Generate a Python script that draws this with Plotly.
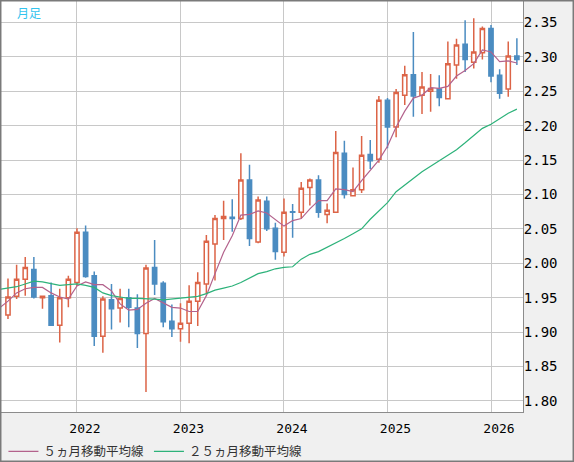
import plotly.graph_objects as go

# monthly candles, May 2021 .. Apr 2026
months = [
    "2021-05", "2021-06", "2021-07", "2021-08", "2021-09", "2021-10", "2021-11", "2021-12",
    "2022-01", "2022-02", "2022-03", "2022-04", "2022-05", "2022-06", "2022-07", "2022-08",
    "2022-09", "2022-10", "2022-11", "2022-12", "2023-01", "2023-02", "2023-03", "2023-04",
    "2023-05", "2023-06", "2023-07", "2023-08", "2023-09", "2023-10", "2023-11", "2023-12",
    "2024-01", "2024-02", "2024-03", "2024-04", "2024-05", "2024-06", "2024-07", "2024-08",
    "2024-09", "2024-10", "2024-11", "2024-12", "2025-01", "2025-02", "2025-03", "2025-04",
    "2025-05", "2025-06", "2025-07", "2025-08", "2025-09", "2025-10", "2025-11", "2025-12",
    "2026-01", "2026-02", "2026-03", "2026-04",
]
opens = [
    1.925, 1.952, 1.977, 1.991, 1.950, 1.953, 1.910, 1.950,
    1.972, 2.045, 1.982, 1.894, 1.947, 1.935, 1.950, 1.935,
    1.898, 1.994, 1.971, 1.916, 1.905, 1.913, 1.945, 1.970,
    2.028, 2.065, 2.067, 2.065, 2.121, 2.031, 2.090, 2.051,
    2.016, 2.075, 2.074, 2.110, 2.121, 2.071, 2.074, 2.160,
    2.098, 2.107, 2.158, 2.151, 2.237, 2.198, 2.244, 2.274,
    2.244, 2.250, 2.253, 2.239, 2.288, 2.318, 2.292, 2.306,
    2.341, 2.273, 2.253, 2.301,
]
highs = [
    1.978, 1.998, 2.009, 2.009, 1.953, 1.972, 1.963, 1.982,
    2.051, 2.055, 1.988, 1.952, 1.970, 1.963, 1.963, 1.955,
    1.998, 2.034, 1.974, 1.940, 1.942, 1.968, 1.987, 2.041,
    2.070, 2.091, 2.093, 2.160, 2.143, 2.097, 2.097, 2.059,
    2.094, 2.086, 2.118, 2.123, 2.128, 2.087, 2.192, 2.178,
    2.139, 2.185, 2.179, 2.243, 2.240, 2.253, 2.287, 2.336,
    2.278, 2.275, 2.273, 2.322, 2.326, 2.353, 2.356, 2.344,
    2.346, 2.282, 2.322, 2.327,
]
lows = [
    1.919, 1.948, 1.953, 1.949, 1.934, 1.909, 1.885, 1.936,
    1.967, 1.979, 1.880, 1.870, 1.904, 1.914, 1.907, 1.877,
    1.813, 1.954, 1.907, 1.893, 1.886, 1.884, 1.909, 1.955,
    1.975, 2.034, 2.046, 2.063, 2.025, 2.029, 2.047, 2.005,
    2.010, 2.037, 2.065, 2.084, 2.066, 2.058, 2.073, 2.094,
    2.097, 2.102, 2.137, 2.146, 2.167, 2.183, 2.230, 2.213,
    2.217, 2.220, 2.228, 2.238, 2.268, 2.278, 2.283, 2.296,
    2.263, 2.239, 2.242, 2.288,
]
closes = [
    1.951, 1.977, 1.994, 1.951, 1.952, 1.910, 1.950, 1.977,
    2.045, 1.981, 1.894, 1.948, 1.934, 1.949, 1.936, 1.898,
    1.993, 1.970, 1.915, 1.905, 1.913, 1.945, 1.972, 2.032,
    2.065, 2.068, 2.065, 2.121, 2.036, 2.092, 2.050, 2.017,
    2.074, 2.074, 2.109, 2.121, 2.074, 2.077, 2.161, 2.100,
    2.107, 2.157, 2.149, 2.237, 2.198, 2.248, 2.274, 2.243,
    2.256, 2.254, 2.241, 2.290, 2.317, 2.296, 2.307, 2.341,
    2.272, 2.247, 2.301, 2.296,
]

# moving averages, starting one month earlier (Apr 2021)
ma5 = [
    1.935,
    1.945, 1.957, 1.963, 1.965, 1.965, 1.957, 1.951, 1.948,
    1.967, 1.973, 1.969, 1.969, 1.960, 1.941, 1.932, 1.933,
    1.942, 1.949, 1.942, 1.936, 1.935, 1.930, 1.930, 1.953,
    1.985, 2.016, 2.040, 2.070, 2.071, 2.076, 2.073, 2.063,
    2.054, 2.062, 2.065, 2.079, 2.091, 2.091, 2.108, 2.107,
    2.104, 2.120, 2.135, 2.150, 2.170, 2.198, 2.221, 2.240,
    2.244, 2.255, 2.254, 2.257, 2.272, 2.280, 2.290, 2.310,
    2.307, 2.293, 2.294, 2.291,
]
ma25 = [
    1.962,
    1.964, 1.966, 1.970, 1.974, 1.973, 1.971, 1.968, 1.969,
    1.970, 1.968, 1.965, 1.957, 1.953, 1.951, 1.949, 1.949,
    1.949, 1.948, 1.947, 1.948, 1.949, 1.950, 1.952, 1.956,
    1.961, 1.964, 1.967, 1.972, 1.978, 1.985, 1.988, 1.992,
    1.994, 1.995, 2.006, 2.013, 2.017, 2.023, 2.029, 2.036,
    2.043, 2.050, 2.064, 2.076, 2.088, 2.104, 2.114, 2.124,
    2.133, 2.141, 2.149, 2.157, 2.165, 2.175, 2.185, 2.196,
    2.202, 2.210, 2.218, 2.224,
]

y_ticks = [1.80, 1.85, 1.90, 1.95, 2.00, 2.05, 2.10, 2.15, 2.20, 2.25, 2.30, 2.35]

RED = "#dc6447"
BLUE = "#4b8cc1"
MA5_COLOR = "#b3628c"
MA25_COLOR = "#2db27a"
GRID = "#c8c8c8"

x = list(range(len(months)))
x_ma = list(range(-1, len(months)))
jan = [i for i, m in enumerate(months) if m.endswith("-01")]
years = [months[i][:4] for i in jan]

fig = go.Figure()
fig.add_trace(go.Candlestick(
    x=x, open=opens, high=highs, low=lows, close=closes,
    increasing=dict(line=dict(color=RED, width=1.5), fillcolor="white"),
    decreasing=dict(line=dict(color=BLUE, width=1.5), fillcolor=BLUE),
    whiskerwidth=0, showlegend=False, hoverinfo="skip",
))
fig.add_trace(go.Scatter(
    x=x_ma, y=ma5, mode="lines", name="５ヵ月移動平均線",
    line=dict(color=MA5_COLOR, width=1.2), hoverinfo="skip",
))
fig.add_trace(go.Scatter(
    x=x_ma, y=ma25, mode="lines", name="２５ヵ月移動平均線",
    line=dict(color=MA25_COLOR, width=1.2), hoverinfo="skip",
))

fig.update_layout(
    width=574, height=462,
    margin=dict(l=1, r=51, t=1, b=50, pad=0),
    paper_bgcolor="#f0f0f0",
    plot_bgcolor="white",
    boxgap=0.3,
    showlegend=True,
    legend=dict(
        orientation="h", xref="container", yref="container",
        x=0.006, y=0.022, xanchor="left", yanchor="middle",
        font=dict(family="Noto Sans CJK JP", size=12.5, color="#333333"),
        bgcolor="rgba(0,0,0,0)", itemwidth=30,
    ),
    font=dict(family="DejaVu Sans Mono", color="black"),
)
fig.update_xaxes(
    range=[-0.81, 59.71], tickvals=jan, ticktext=years,
    showgrid=True, gridcolor=GRID, gridwidth=1, zeroline=False,
    showline=True, linecolor="#8c8c8c", linewidth=1, mirror=True,
    ticks="", ticklabelshift=8, ticklabelstandoff=4,
    tickfont=dict(family="DejaVu Sans Mono", size=13, color="black"),
    rangeslider=dict(visible=False), fixedrange=True,
)
fig.update_yaxes(
    side="right", range=[1.784, 2.381],
    tickvals=y_ticks, ticktext=["%.2f" % v for v in y_ticks],
    showgrid=True, gridcolor=GRID, gridwidth=1, zeroline=False,
    showline=True, linecolor="#8c8c8c", linewidth=1, mirror=True,
    ticks="", ticklabelstandoff=-3,
    tickfont=dict(family="DejaVu Sans Mono", size=14, color="black"),
    fixedrange=True,
)

fig.add_annotation(
    text="月足", xref="paper", yref="paper", x=0.027, y=0.973,
    xanchor="left", yanchor="middle", showarrow=False,
    font=dict(family="Noto Sans CJK JP", size=12, color="#33c3ee"),
)
# outer frame of the whole widget
fig.add_shape(
    type="rect", xref="paper", yref="paper",
    x0=-0.001, x1=1.0968, y0=-0.1204, y1=1.0012,
    line=dict(color="#7a7a7a", width=2), layer="above",
)

# the page body adds an 8px margin by default; drop it so the chart sits at 0,0
fig.write_html(
    "out.html",
    config={"displayModeBar": False},
    post_script="document.body.style.margin='0';",
)
